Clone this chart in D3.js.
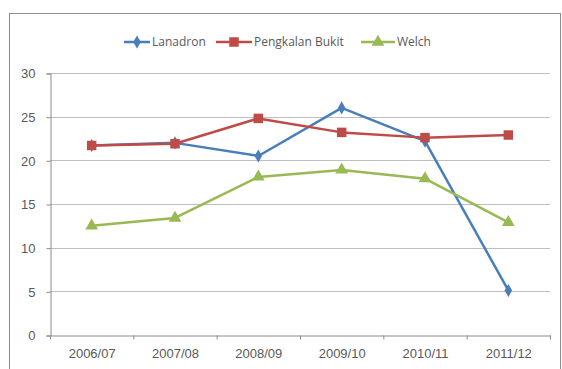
<!DOCTYPE html>
<html>
<head>
<meta charset="utf-8">
<script src="https://cdn.jsdelivr.net/npm/d3@7"></script>
<style>
  html, body { margin: 0; padding: 0; background: #fff; }
  svg { display: block; font-family: "Open Sans", "Noto Sans", sans-serif; }
</style>
</head>
<body>
<svg id="chart" width="562" height="369"></svg>
<script>
// Seasons along the x axis
const seasons = ["2006/07", "2007/08", "2008/09", "2009/10", "2010/11", "2011/12"];
// One series per estate
const lanadron = [21.7, 22.0, 20.5, 26.0, 22.2, 5.1];
const pengkalanBukit = [21.7, 21.9, 24.8, 23.2, 22.6, 22.9];
const welch = [12.5, 13.4, 18.1, 18.9, 17.9, 12.9];
const seriesNames = ["Lanadron", "Pengkalan Bukit", "Welch"];
const yTicks = [0, 5, 10, 15, 20, 25, 30];

const seriesColors = ["#4A7EBB", "#BE4B48", "#98B954"];
const markerTypes = [d3.symbolDiamond, d3.symbolSquare, d3.symbolTriangle];
const markerSizes = [50, 90, 70];
const seriesValues = [lanadron, pengkalanBukit, welch];

const svg = d3.select("#chart");

// outer chart frame
svg.append("rect")
  .attr("x", 9.5).attr("y", 13.5)
  .attr("width", 551).attr("height", 370)
  .attr("fill", "#fff").attr("stroke", "#8c8c8c").attr("stroke-width", 1);

const x = d3.scaleBand().domain(seasons).range([50, 550]);
const y = d3.scaleLinear().domain([0, 30]).range([335, 73]);

// horizontal gridlines
svg.append("g").selectAll("line").data(yTicks.filter(t => t > 0)).join("line")
  .attr("x1", 50).attr("x2", 550)
  .attr("y1", d => Math.round(y(d)) + 0.5).attr("y2", d => Math.round(y(d)) + 0.5)
  .attr("stroke", "#bfbfbf").attr("stroke-width", 1);

// y axis
const yAxis = svg.append("g").attr("transform", "translate(50.5,0.5)")
  .call(d3.axisLeft(y).tickValues(yTicks).tickSize(4).tickPadding(11).tickFormat(d3.format("d")));
yAxis.selectAll("path, line").attr("stroke", "#8c8c8c");
yAxis.selectAll("text").attr("fill", "#595959").style("font-size", "13px");

// x axis
const xAxis = svg.append("g").attr("transform", "translate(0.5,335.5)")
  .call(d3.axisBottom(x).tickSize(0).tickPadding(13));
xAxis.selectAll("path").attr("stroke", "#8c8c8c");
xAxis.selectAll("text").attr("fill", "#595959").style("font-size", "13px");
// category boundary ticks
xAxis.append("g").selectAll("line")
  .data(seasons.map(s => x(s)).concat([x.range()[1]]))
  .join("line")
  .attr("x1", d => d).attr("x2", d => d).attr("y1", 0).attr("y2", 4)
  .attr("stroke", "#8c8c8c");

const cx = s => x(s) + x.bandwidth() / 2;
const line = d3.line().x((d, i) => cx(seasons[i])).y(d => y(d));

seriesValues.forEach((vals, k) => {
  svg.append("path").datum(vals)
    .attr("d", line)
    .attr("fill", "none").attr("stroke", seriesColors[k]).attr("stroke-width", 2.5)
    .attr("stroke-linejoin", "round");
  svg.append("g").selectAll("path").data(vals).join("path")
    .attr("transform", (d, i) => `translate(${cx(seasons[i])},${y(d)})`)
    .attr("d", d3.symbol().type(markerTypes[k]).size(markerSizes[k]))
    .attr("fill", seriesColors[k]);
});

// legend
const legendItems = [
  { x: 124, w: 22 },
  { x: 216, w: 32 },
  { x: 361, w: 30 }
];
const legend = svg.append("g");
seriesNames.forEach((name, k) => {
  const g = legend.append("g").attr("transform", `translate(${legendItems[k].x},42)`);
  g.append("line").attr("x1", 0).attr("x2", legendItems[k].w + 4)
    .attr("stroke", seriesColors[k]).attr("stroke-width", 2.5);
  g.append("path")
    .attr("transform", `translate(${(legendItems[k].w + 4) / 2},0)`)
    .attr("d", d3.symbol().type(markerTypes[k]).size(markerSizes[k]))
    .attr("fill", seriesColors[k]);
  g.append("text").attr("x", legendItems[k].w + 6).attr("y", 4)
    .attr("fill", "#595959").style("font-size", "12px").text(name);
});
</script>
</body>
</html>
